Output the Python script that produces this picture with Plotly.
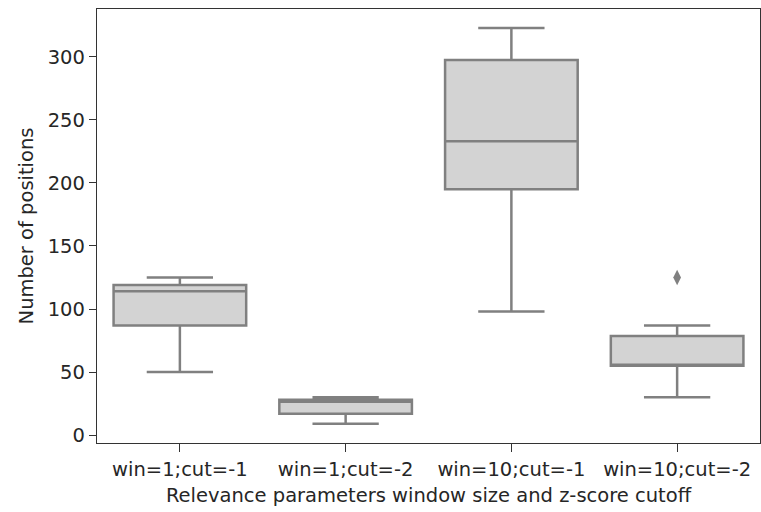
import plotly.graph_objects as go

categories = ["win=1;cut=-1", "win=1;cut=-2", "win=10;cut=-1", "win=10;cut=-2"]
lower_whisker = [50, 9, 98, 30]
q1 = [87, 17, 195, 55]
median = [114, 26.5, 233, 55.8]
q3 = [119, 28, 297.5, 78.5]
upper_whisker = [125, 30, 323, 87]
outlier_cats = ["win=10;cut=-2"]
outlier_vals = [125]

LINE = "#808080"
FILL = "#d3d3d3"
FONT = "DejaVu Sans"
FS = 19.5

fig = go.Figure()
fig.add_trace(go.Box(
    x=categories, q1=q1, median=median, q3=q3,
    lowerfence=lower_whisker, upperfence=upper_whisker,
    width=0.8, whiskerwidth=0.5,
    fillcolor=FILL, line=dict(color=LINE, width=2.5),
    boxpoints=False, showlegend=False, hoverinfo="skip",
))
fig.add_trace(go.Scatter(
    x=outlier_cats, y=outlier_vals, mode="markers",
    marker=dict(symbol="diamond-tall", size=11, color=LINE),
    showlegend=False, hoverinfo="skip",
))

fig.update_layout(
    width=761, height=512,
    margin=dict(l=97, r=1, t=9, b=69),
    paper_bgcolor="white", plot_bgcolor="white",
    font=dict(family=FONT, size=FS, color="#262626"),
)
fig.update_xaxes(
    type="category", categoryorder="array", categoryarray=categories,
    range=[-0.5, 3.5],
    showline=True, linecolor="#333333", linewidth=1.3, mirror=True,
    ticks="outside", ticklen=8, tickcolor="#333333", showgrid=False,
    title=dict(text="Relevance parameters window size and z-score cutoff", standoff=8, font=dict(size=FS)),
    tickfont=dict(size=FS),
)
fig.update_yaxes(
    range=[-6.3, 338],
    tickvals=[0, 50, 100, 150, 200, 250, 300],
    showline=True, linecolor="#333333", linewidth=1.3, mirror=True,
    ticks="outside", ticklen=7, tickcolor="#333333", showgrid=False, zeroline=False,
    title=dict(text="Number of positions", standoff=8, font=dict(size=FS)),
    tickfont=dict(size=FS),
)

fig.write_html("out.html")
